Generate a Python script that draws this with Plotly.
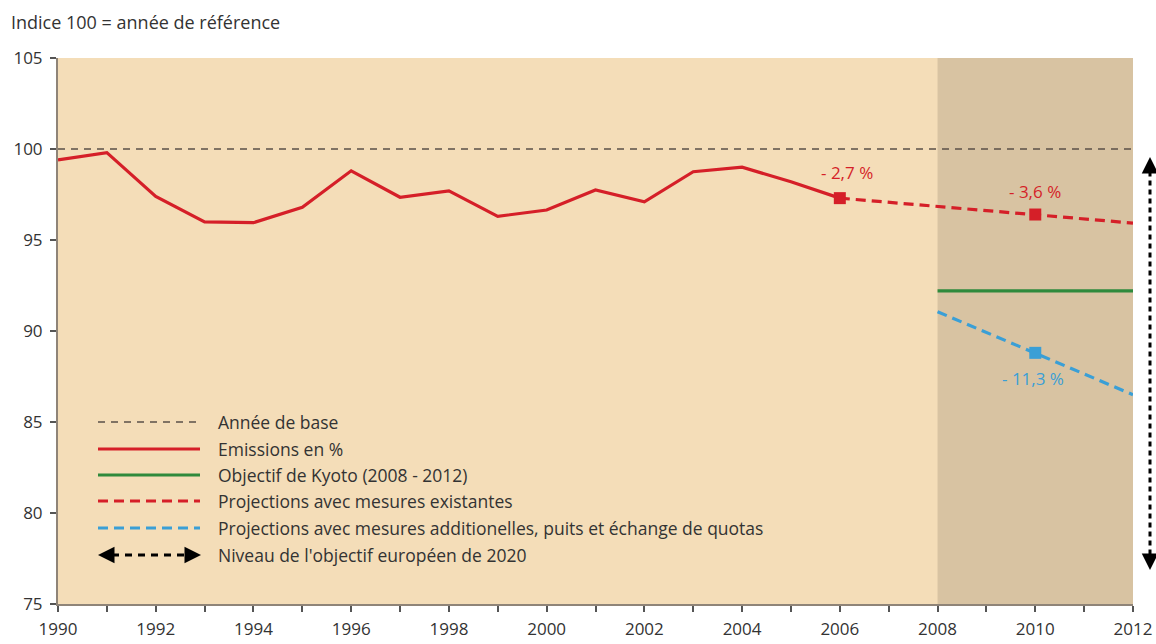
import plotly.graph_objects as go

# ---- data ----
years = list(range(1990, 2007))
emissions = [99.4, 99.8, 97.4, 96.0, 95.95, 96.8, 98.8, 97.35, 97.7, 96.3,
             96.65, 97.75, 97.1, 98.75, 99.0, 98.2, 97.3]
base_years = [1990, 2012]
base_level = [100, 100]
proj_exist_years = [2006, 2010, 2012]
proj_exist = [97.3, 96.4, 95.93]
kyoto_years = [2008, 2012]
kyoto = [92.2, 92.2]
proj_add_years = [2008, 2010, 2012]
proj_add = [91.06, 88.8, 86.5]
marker_exist_years = [2006, 2010]
marker_exist = [97.3, 96.4]
marker_add_years = [2010]
marker_add = [88.8]
eu2020_top, eu2020_bottom = 99.56, 76.87
label_exist_2006 = "- 2,7 %"
label_exist_2010 = "- 3,6 %"
label_add_2010 = "- 11,3 %"
legend_labels = ["Année de base", "Emissions en %", "Objectif de Kyoto (2008 - 2012)",
                 "Projections avec mesures existantes",
                 "Projections avec mesures additionelles, puits et échange de quotas",
                 "Niveau de l'objectif européen de 2020"]
x_tick_vals = list(range(1990, 2013, 2))
y_tick_vals = [75, 80, 85, 90, 95, 100, 105]

RED = "#d51f28"
GREEN = "#2f8a3c"
BLUE = "#3a9fd6"
BASE = "#5a5048"
TXT = "#333333"
AXC = "#8f8478"
FONT = "Open Sans"

fig = go.Figure()

fig.add_trace(go.Scatter(x=base_years, y=base_level, mode="lines",
                         line=dict(color=BASE, width=1.4, dash="7px,6px"),
                         showlegend=False, hoverinfo="skip"))
fig.add_trace(go.Scatter(x=years, y=emissions, mode="lines",
                         line=dict(color=RED, width=3.2), showlegend=False))
fig.add_trace(go.Scatter(x=proj_exist_years, y=proj_exist, mode="lines",
                         line=dict(color=RED, width=3.2, dash="10px,6px"), showlegend=False))
fig.add_trace(go.Scatter(x=kyoto_years, y=kyoto, mode="lines",
                         line=dict(color=GREEN, width=3.2), showlegend=False))
fig.add_trace(go.Scatter(x=proj_add_years, y=proj_add, mode="lines",
                         line=dict(color=BLUE, width=3.2, dash="10px,6px"), showlegend=False))
fig.add_trace(go.Scatter(x=marker_exist_years, y=marker_exist, mode="markers",
                         marker=dict(symbol="square", size=12, color=RED), showlegend=False))
fig.add_trace(go.Scatter(x=marker_add_years, y=marker_add, mode="markers",
                         marker=dict(symbol="square", size=12, color=BLUE), showlegend=False))

# shaded Kyoto period
fig.add_vrect(x0=2008, x1=2012, fillcolor="#d8c3a2", line_width=0, layer="below")

# value labels
fig.add_annotation(x=2006.15, y=98.7, text=label_exist_2006, showarrow=False,
                   font=dict(color=RED, size=17, family=FONT))
fig.add_annotation(x=2010, y=97.65, text=label_exist_2010, showarrow=False,
                   font=dict(color=RED, size=17, family=FONT))
fig.add_annotation(x=2009.95, y=87.4, text=label_add_2010, showarrow=False,
                   font=dict(color=BLUE, size=17, family=FONT))

# geometry helpers (page pixel -> paper)
plot_top, plot_bottom, plot_left, plot_right = 58, 604, 58, 1133
def py(pix):
    return (plot_bottom - pix) / (plot_bottom - plot_top)
def px(pix):
    return (pix - plot_left) / (plot_right - plot_left)

# EU 2020 objective double arrow (outside right edge)
AX = px(1150)
fig.add_shape(type="line", xref="paper", yref="y", x0=AX, x1=AX,
              y0=eu2020_top - 0.8, y1=eu2020_bottom + 0.8,
              line=dict(color="black", width=3, dash="5px,4px"))
fig.add_annotation(xref="paper", yref="y", x=AX, y=eu2020_top, ax=0, ay=12, text="",
                   showarrow=True, arrowhead=2, arrowsize=1.5, arrowwidth=2.2, arrowcolor="black")
fig.add_annotation(xref="paper", yref="y", x=AX, y=eu2020_bottom, ax=0, ay=-12, text="",
                   showarrow=True, arrowhead=2, arrowsize=1.5, arrowwidth=2.2, arrowcolor="black")

# custom legend
rows = [422, 449, 475, 501, 528, 555]
x0s, x1s, xt = px(98), px(200), px(216)
styles = [dict(color=BASE, width=1.4, dash="7px,6px"),
          dict(color=RED, width=3.2),
          dict(color=GREEN, width=3.2),
          dict(color=RED, width=3.2, dash="10px,6px"),
          dict(color=BLUE, width=3.2, dash="10px,6px")]
for i, lab in enumerate(legend_labels):
    yy = py(rows[i])
    if i < 5:
        fig.add_shape(type="line", xref="paper", yref="paper", x0=x0s, x1=x1s, y0=yy, y1=yy,
                      line=styles[i])
    else:
        fig.add_shape(type="line", xref="paper", yref="paper", x0=px(112), x1=px(188), y0=yy, y1=yy,
                      line=dict(color="black", width=3, dash="7px,6px"))
        fig.add_annotation(xref="paper", yref="paper", x=px(98), y=yy, ax=12, ay=0, text="",
                           showarrow=True, arrowhead=2, arrowsize=1.5, arrowwidth=2.2, arrowcolor="black")
        fig.add_annotation(xref="paper", yref="paper", x=px(201), y=yy, ax=-12, ay=0, text="",
                           showarrow=True, arrowhead=2, arrowsize=1.5, arrowwidth=2.2, arrowcolor="black")
    fig.add_annotation(xref="paper", yref="paper", x=xt, y=yy, text=lab, showarrow=False,
                       xanchor="left", yanchor="middle", font=dict(color=TXT, size=17.5, family=FONT))

# top-left caption
fig.add_annotation(xref="paper", yref="paper", x=px(9), y=py(22), text="Indice 100 = année de référence",
                   showarrow=False, xanchor="left", yanchor="middle",
                   font=dict(color=TXT, size=18, family=FONT))

fig.update_xaxes(range=[1990, 2012], tickmode="array", tickvals=x_tick_vals,
                 ticktext=[str(v) for v in x_tick_vals], automargin=False,
                 showgrid=False, zeroline=False, showline=True, linecolor=AXC, linewidth=2,
                 ticks="outside", ticklen=6, tickcolor="#555", tickwidth=1.5,
                 ticklabelstandoff=3,
                 minor=dict(dtick=1, ticks="outside", ticklen=6, tickcolor="#555", tickwidth=1.5),
                 tickfont=dict(size=17, color=TXT, family=FONT))
fig.update_yaxes(range=[75, 105], tickmode="array", tickvals=y_tick_vals, automargin=False,
                 showgrid=False, zeroline=False, showline=True, linecolor=AXC, linewidth=2,
                 ticks="outside", ticklen=6, tickcolor="#555", tickwidth=1.5,
                 ticklabelstandoff=4,
                 tickfont=dict(size=17, color=TXT, family=FONT))

W, H = 1156, 644
fig.update_layout(width=W, height=H,
                  margin=dict(l=plot_left, r=W - plot_right, t=plot_top, b=H - plot_bottom),
                  paper_bgcolor="white", plot_bgcolor="#f4ddb8", showlegend=False,
                  font=dict(family=FONT, color=TXT))

fig.write_html("out.html", config={"displayModeBar": False},
               post_script="document.body.style.margin='0';document.body.style.overflow='hidden';")
